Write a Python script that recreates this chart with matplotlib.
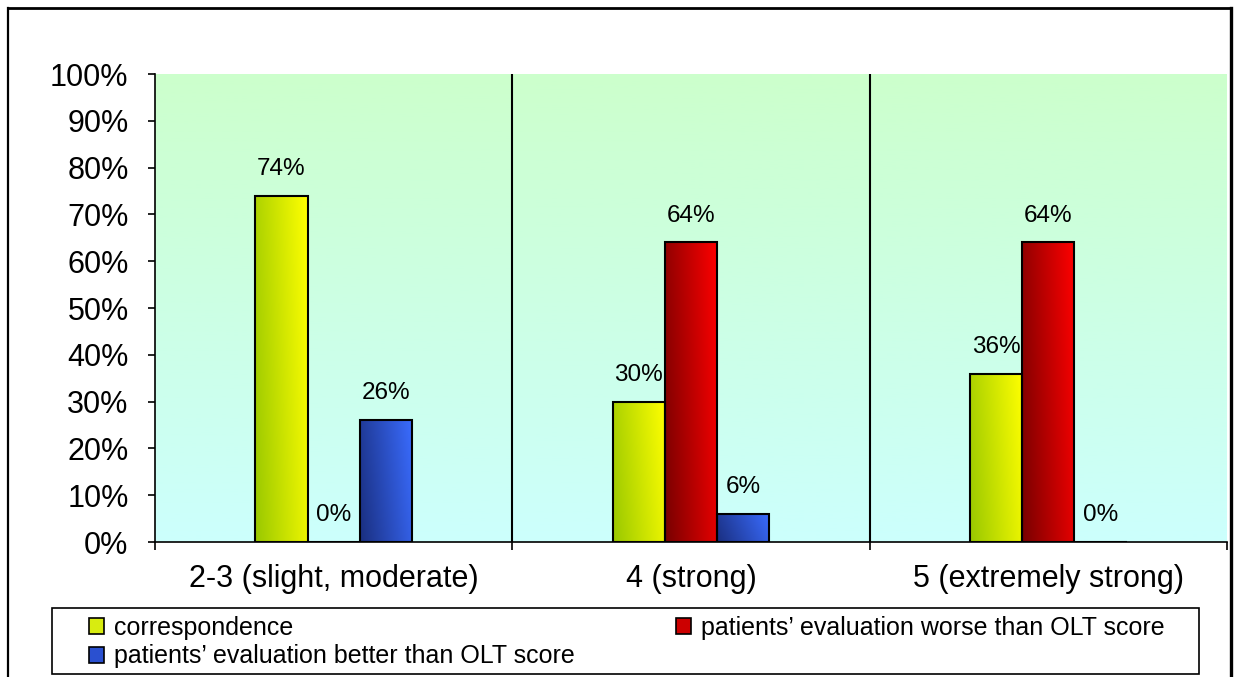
import matplotlib
matplotlib.use("Agg")
import matplotlib.pyplot as plt
import numpy as np
from matplotlib.colors import LinearSegmentedColormap
from matplotlib.lines import Line2D
from matplotlib.patches import Patch, Rectangle

plt.rcParams["font.family"] = ["Liberation Sans", "DejaVu Sans"]

categories = ["2-3 (slight, moderate)", "4 (strong)", "5 (extremely strong)"]
series_names = [
    "correspondence",
    "patients\u2019 evaluation better than OLT score",
    "patients\u2019 evaluation worse than OLT score",
]
correspondence = [74, 30, 36]
worse = [0, 64, 64]
better = [26, 6, 0]
yticks = list(range(0, 101, 10))

# dark -> bright gradient stops per series
yellow = ("#99c800", "#ffff00")
red = ("#780000", "#ff0000")
blue = ("#1a2f80", "#3a6cff")


def grad_bar(ax, bar, colors):
    h = bar.get_height()
    if h <= 0:
        return
    x0 = bar.get_x()
    x1 = x0 + bar.get_width()
    X, Y = np.meshgrid(np.linspace(0, 1, 64), np.linspace(0, 1, 64))
    Z = 0.8 * X + 0.2 * Y
    cmap = LinearSegmentedColormap.from_list("g", list(colors))
    im = ax.imshow(Z, extent=(x0, x1, 0, h), origin="lower", cmap=cmap,
                   vmin=0, vmax=1, aspect="auto", zorder=2, interpolation="bilinear")
    im.set_clip_path(bar)


W, H = 1234, 677
fig = plt.figure(figsize=(W / 100, H / 100), dpi=100)
fig.patch.set_facecolor("white")
ax = fig.add_axes([155 / W, 135 / H, 1072 / W, 468 / H])

# background gradient, green top -> cyan bottom
bg = LinearSegmentedColormap.from_list("bg", ["#ccfffd", "#ccffcc"])
ax.imshow(np.linspace(0, 1, 256).reshape(-1, 1), extent=(-0.5, 2.5, 0, 100),
          origin="lower", cmap=bg, aspect="auto", zorder=0)

x = np.arange(len(categories))
w = 0.146
series = [(correspondence, yellow, -w), (worse, red, 0.0), (better, blue, w)]
for vals, cols, off in series:
    bars = ax.bar(x + off, vals, width=w, facecolor="none", edgecolor="black",
                  linewidth=1.5, zorder=3)
    for b, v in zip(bars, vals):
        grad_bar(ax, b, cols)
        ax.annotate(f"{v}%", (b.get_x() + b.get_width() / 2, v),
                    xytext=(0, 15), textcoords="offset points",
                    ha="center", va="baseline", fontsize=17.5, zorder=4)

for sep in [0.5, 1.5]:
    ax.axvline(sep, color="black", lw=1.5, zorder=1)

ax.set_xlim(-0.5, 2.5)
ax.set_ylim(0, 100)
ax.set_yticks(yticks)
ax.set_yticklabels([f"{t}%" for t in yticks], fontsize=22)
ax.set_xticks(x)
ax.set_xticklabels(categories, fontsize=22)
ax.set_xticks([-0.5, 0.5, 1.5, 2.5], minor=True)
ax.tick_params(axis="x", which="major", length=0, pad=16)
ax.tick_params(axis="x", which="minor", length=6, width=1.2, direction="out")
ax.tick_params(axis="y", length=5, width=1.2, pad=14)

for s in ["top", "right"]:
    ax.spines[s].set_visible(False)
for s in ["left", "bottom"]:
    ax.spines[s].set_linewidth(1.2)
    ax.spines[s].set_zorder(5)

# legend box drawn separately, entries placed inside it
fig.add_artist(Rectangle((52 / W, 3 / H), 1147 / W, 66 / H, transform=fig.transFigure,
                         facecolor="white", edgecolor="black", lw=1.2))
handles = [
    Patch(facecolor="#d8ec10", edgecolor="black", lw=1.2),
    Patch(facecolor="#2a50d0", edgecolor="black", lw=1.2),
    Patch(facecolor="#cc0000", edgecolor="black", lw=1.2),
]
leg = fig.legend(handles, series_names, loc="upper left", ncol=2, mode="expand",
                 bbox_to_anchor=(89 / W, 0, 1076 / W, 1 - 616 / H),
                 fontsize=18, frameon=False, borderpad=0,
                 labelspacing=0.18, handlelength=0.6, handleheight=0.6,
                 handletextpad=0.4, borderaxespad=0)

# outer chart frame
fig.add_artist(Line2D([8 / W, 8 / W], [0, 1 - 8 / H], color="black",
                      lw=1.6, transform=fig.transFigure))
fig.add_artist(Line2D([8 / W, 1231 / W], [1 - 8 / H, 1 - 8 / H],
                      color="black", lw=2, transform=fig.transFigure))
fig.add_artist(Line2D([1231 / W, 1231 / W], [0, 1 - 8 / H], color="black",
                      lw=2.4, transform=fig.transFigure))

fig.savefig("out.png", dpi=100, facecolor=fig.get_facecolor())
plt.close(fig)
